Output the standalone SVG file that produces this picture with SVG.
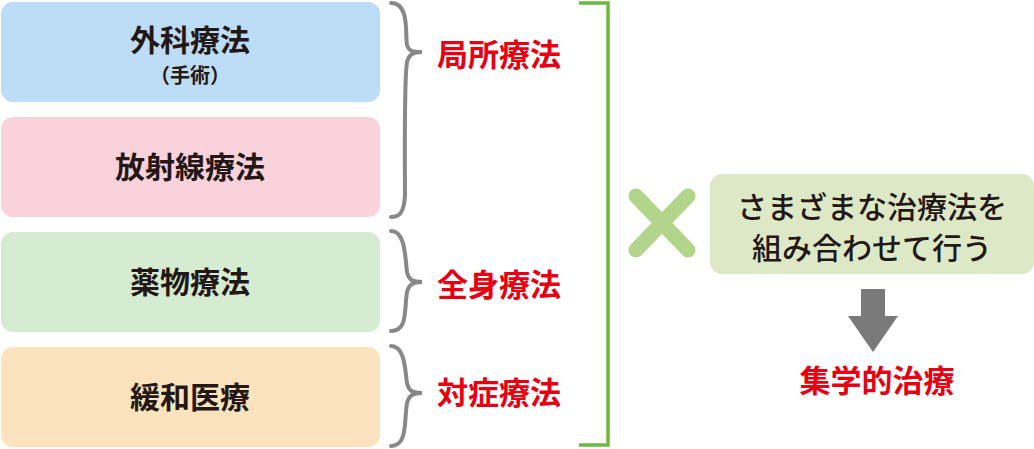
<svg xmlns="http://www.w3.org/2000/svg" width="1034" height="449" viewBox="0 0 1034 449">
<style>
text{font-family:"Noto Sans CJK JP",sans-serif;font-weight:bold;text-anchor:middle}
.n{font-size:30px;fill:#231815}
.r{font-size:31px;fill:#e60012}
.b{fill:none;stroke:#888;stroke-width:4;stroke-linecap:round}
</style>
<rect width="1034" height="449" fill="#fff"/>
<g id="n1"><rect x="1" y="2" width="379" height="100" rx="12" fill="#bddcf5"/><text class="n" x="190" y="51">外科療法</text><text x="190" y="83" style="font-size:20px;fill:#231815">（手術）</text></g>
<g id="n2"><rect x="1" y="117" width="379" height="100" rx="12" fill="#f9d2dc"/><text class="n" x="190" y="178">放射線療法</text></g>
<g id="n3"><rect x="1" y="232" width="379" height="100" rx="12" fill="#d5ecd3"/><text class="n" x="190" y="293">薬物療法</text></g>
<g id="n4"><rect x="1" y="347" width="379" height="100" rx="12" fill="#fbe3bd"/><text class="n" x="190" y="408">緩和医療</text></g>
<g id="connectors">
<path class="b" d="M391,3 C410,3 405,35 407,45 C409,52 414,52 422,52 C414,52 409,54 407,62 C404,80 405,180 405,195 C404,215 398,217 391,217"/>
<path class="b" d="M391,231 C405,231 405,255 407,272 C409,281 414,282 422,282 C414,282 409,284 407,292 C404,310 408,331 391,331"/>
<path class="b" d="M391,346 C405,346 405,370 407,383 C409,392 414,393 422,393 C414,393 409,395 407,403 C404,420 408,446 391,446"/>
<path d="M579,3 H608 V445 H579" fill="none" stroke="#6cb93f" stroke-width="3.5"/>
<path d="M636,196 L688,250 M688,196 L636,250" stroke="#b3d58b" stroke-width="15" stroke-linecap="round"/>
<path d="M861,289 H885 V316 H898 L873,352 L848,316 H861 Z" fill="#7a7a7a"/>
</g>
<g id="labels"><text class="r" x="499" y="66">局所療法</text><text class="r" x="499" y="296">全身療法</text><text class="r" x="499" y="404">対症療法</text></g>
<g id="n5"><rect x="710" y="174" width="324" height="100" rx="12" fill="#dde9c6"/><text x="872" y="218" style="font-size:30px;font-weight:500;fill:#231815">さまざまな治療法を</text><text x="872" y="259" style="font-size:30px;font-weight:500;fill:#231815">組み合わせて行う</text></g>
<g id="n6"><text class="r" x="877" y="392">集学的治療</text></g>
</svg>
